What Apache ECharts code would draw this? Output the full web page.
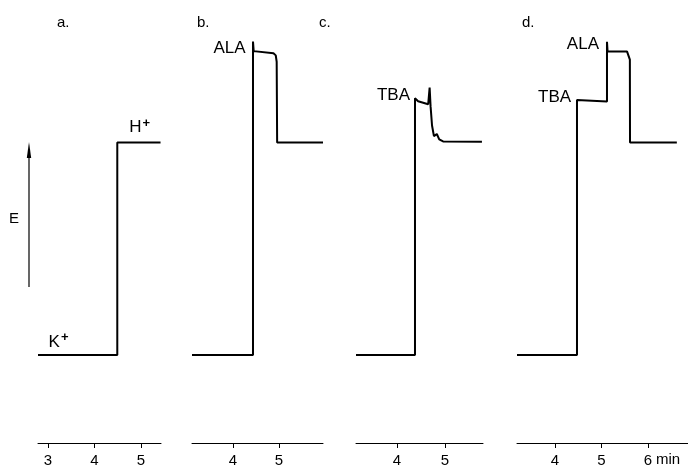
<!DOCTYPE html>
<html><head><meta charset="utf-8">
<script src="https://cdn.jsdelivr.net/npm/echarts@6/dist/echarts.min.js"></script>
<style>html,body{margin:0;padding:0;background:#fff}#c{width:688px;height:468px}</style>
</head><body><div id="c"></div>
<script>
// ---- data ----
const panelNames = ['a.', 'b.', 'c.', 'd.'];
const xMin = [2.785, 3.109, 3.146, 3.183];
const xMax = [5.43, 5.957, 5.792, 6.86];
const tickValues = [[3, 4, 5], [4, 5], [4, 5], [4, 5, 6]];
// potential E (arbitrary units) vs time (min); K+ level = 0, H+ level = 100
const traceA = [[2.785, 0], [4.49, 0], [4.49, 100], [5.42, 100]];
const traceB = [[3.109, 0], [4.435, 0], [4.435, 147.5], [4.45, 143], [4.47, 142.2], [4.88, 142], [4.93, 141], [4.95, 138], [4.96, 100], [5.957, 100]];
const traceC = [[3.146, 0], [4.375, 0], [4.375, 120.8], [4.44, 119.4], [4.65, 118], [4.67, 118], [4.68, 125.9], [4.70, 117], [4.73, 108], [4.77, 103], [4.80, 103.5], [4.83, 104], [4.88, 101.5], [4.96, 100.5], [5.77, 100.3]];
const traceD = [[3.183, 0], [4.473, 0], [4.473, 120], [4.49, 119.3], [5.118, 119.3], [5.118, 147.4], [5.13, 143], [5.15, 142.8], [5.55, 142.8], [5.59, 142], [5.61, 139], [5.613, 100], [6.62, 100]];
const traces = [traceA, traceB, traceC, traceD];
// annotation labels: [time, E, text]
const labelsA = [[3.226, 6.2, 'K{s|+}'], [4.97, 107.3, 'H{s|+}']];
const labelsB = [[3.924, 144.2, 'ALA']];
const labelsC = [[3.927, 122.2, 'TBA']];
const labelsD = [[3.99, 121.3, 'TBA'], [4.60, 146.2, 'ALA']];
const panelLabels = [labelsA, labelsB, labelsC, labelsD];
const yMin = -41.4, yMax = 160;

// ---- layout ----
const gridLeft = [38, 192, 356, 517];
const gridWidth = [123, 131, 127, 171];
const titleLeft = [52, 192, 314, 517];
const FONT = 'Liberation Sans';

const chart = echarts.init(document.getElementById('c'), null, {renderer: 'canvas'});
const grids = [], xAxes = [], yAxes = [], series = [], titles = [];
for (let i = 0; i < 4; i++) {
  grids.push({left: gridLeft[i], width: gridWidth[i], top: 15, bottom: 21, containLabel: false});
  xAxes.push({
    type: 'value', gridIndex: i, min: xMin[i], max: xMax[i],
    splitLine: {show: false},
    axisLine: {show: true, onZero: false, lineStyle: {color: '#000', width: 1}},
    axisTick: {show: true, customValues: tickValues[i], length: 5, lineStyle: {color: '#000', width: 1}},
    axisLabel: {show: true, customValues: tickValues[i], color: '#000', fontFamily: FONT, fontSize: 15, margin: 10}
  });
  yAxes.push({type: 'value', gridIndex: i, min: yMin, max: yMax, show: false, splitLine: {show: false}});
  series.push({
    type: 'line', xAxisIndex: i, yAxisIndex: i, data: traces[i],
    symbol: 'none', lineStyle: {color: '#000', width: 2}, animation: false,
    markPoint: {
      symbol: 'circle', symbolSize: 0, animation: false,
      label: {
        show: true, position: 'inside', color: '#000', fontFamily: FONT, fontSize: 17,
        formatter: p => p.name,
        rich: {s: {fontSize: 13, fontWeight: 'bold', fontFamily: FONT, verticalAlign: 'top', padding: [0, 0, 8, 1]}}
      },
      data: panelLabels[i].map(l => ({coord: [l[0], l[1]], name: l[2]}))
    }
  });
  titles.push({text: panelNames[i], left: titleLeft[i], top: 10, textStyle: {fontFamily: FONT, fontSize: 15, fontWeight: 'normal', color: '#000'}});
}

chart.setOption({
  animation: false,
  backgroundColor: '#fff',
  title: titles,
  grid: grids, xAxis: xAxes, yAxis: yAxes, series: series,
  graphic: [
    {type: 'line', shape: {x1: 29, y1: 287, x2: 29, y2: 152}, style: {stroke: '#000', lineWidth: 1.2}},
    {type: 'polygon', shape: {points: [[29, 142], [26.8, 158], [31.2, 158]]}, style: {fill: '#000'}},
    {type: 'text', left: 9, top: 211, style: {text: 'E', fontFamily: FONT, fontSize: 15, fill: '#000'}},
    {type: 'text', left: 656, top: 452, style: {text: 'min', fontFamily: FONT, fontSize: 15, fill: '#000'}}
  ]
});
</script></body></html>
